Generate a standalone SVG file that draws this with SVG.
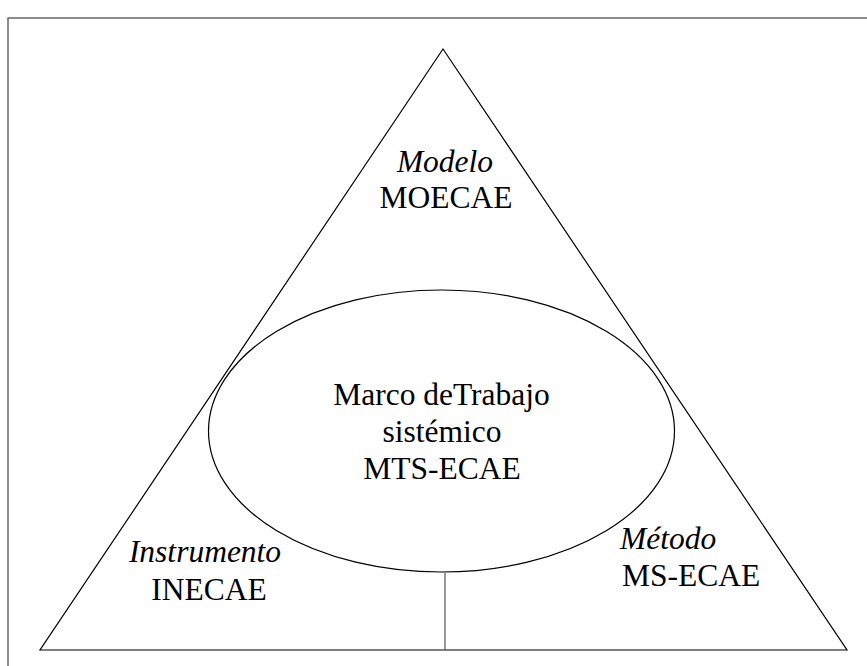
<svg xmlns="http://www.w3.org/2000/svg" width="867" height="666" viewBox="0 0 867 666">
<style>
.t{font-family:"Liberation Serif","Times New Roman",serif;font-size:31.5px;fill:#000}
.i{font-style:italic}
.s{fill:none;stroke:#000;stroke-width:1.2}
</style>
<rect x="0" y="0" width="867" height="666" fill="#fff"/>
<rect x="8" y="18" width="900" height="700" fill="none" stroke="#444" stroke-width="1.2"/>
<g id="triangle">
<polygon class="s" points="443,49 40,650 847,650"/>
</g>
<g id="modelo">
<text class="t i" x="445" y="172" text-anchor="middle">Modelo</text>
<text class="t" x="446" y="208" text-anchor="middle">MOECAE</text>
</g>
<g id="marco">
<ellipse class="s" cx="441.5" cy="431" rx="233" ry="141"/>
<text class="t" x="441.5" y="405" text-anchor="middle">Marco deTrabajo</text>
<text class="t" x="442" y="442" text-anchor="middle">sistémico</text>
<text class="t" x="442" y="479" text-anchor="middle">MTS-ECAE</text>
</g>
<g id="instrumento">
<text class="t i" x="205" y="562" text-anchor="middle">Instrumento</text>
<text class="t" x="209" y="600" text-anchor="middle">INECAE</text>
</g>
<g id="metodo">
<text class="t i" x="620" y="549">Método</text>
<text class="t" x="622" y="586">MS-ECAE</text>
</g>
<g id="connectors">
<line x1="445" y1="573" x2="445" y2="650" stroke="#555" stroke-width="1.2"/>
</g>
</svg>
